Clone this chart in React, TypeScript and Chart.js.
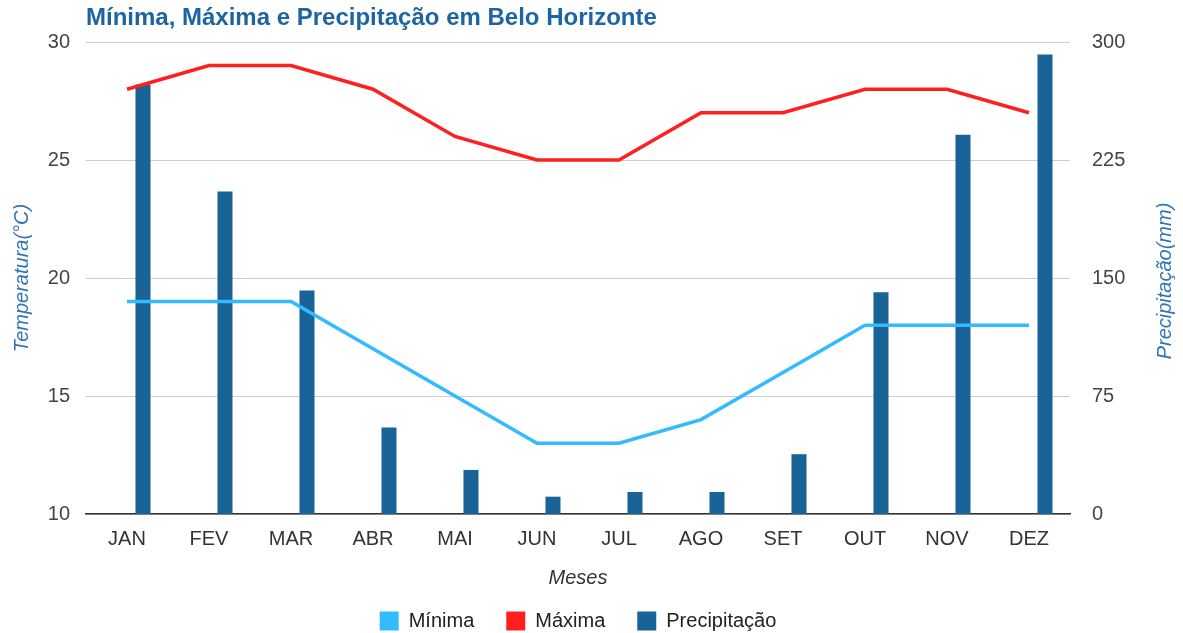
import React, { useEffect, useRef } from "react";
import { Chart, registerables } from "chart.js";

Chart.register(...registerables);

const meses = ["JAN", "FEV", "MAR", "ABR", "MAI", "JUN", "JUL", "AGO", "SET", "OUT", "NOV", "DEZ"];
const minima = [19, 19, 19, 17, 15, 13, 13, 14, 16, 18, 18, 18];
const maxima = [28, 29, 29, 28, 26, 25, 25, 27, 27, 28, 28, 27];
const precipitacao = [273, 205, 142, 55, 28, 11, 14, 14, 38, 141, 241, 292];
const padding = [null, null, null, null, null, null, null, null, null, null, null, null];

const FONT = 'Arial, "Liberation Sans", sans-serif';
const RIGHT_TITLE = "Precipitação(mm)";

const rightTitlePlugin = {
  id: "rightTitle",
  afterDraw(chart: any) {
    const { ctx, chartArea } = chart;
    ctx.save();
    ctx.translate(1165, (chartArea.top + chartArea.bottom) / 2 + 3);
    ctx.rotate(-Math.PI / 2);
    ctx.font = `italic 20px ${FONT}`;
    ctx.fillStyle = "#2e75b6";
    ctx.textAlign = "center";
    ctx.textBaseline = "middle";
    ctx.fillText(RIGHT_TITLE, 0, 0);
    ctx.restore();
  },
};

export default function App() {
  const ref = useRef<HTMLCanvasElement>(null);
  useEffect(() => {
    document.body.style.margin = "0";
    const ctx = ref.current!.getContext("2d")!;
    const chart = new Chart(ctx, {
      type: "bar",
      plugins: [rightTitlePlugin],
      data: {
        labels: meses,
        datasets: [
          {
            type: "line",
            label: "Mínima",
            data: minima,
            borderColor: "#33bbff",
            backgroundColor: "#33bbff",
            borderWidth: 3.5,
            pointRadius: 0,
            tension: 0,
            yAxisID: "y",
            order: 0,
          } as any,
          {
            type: "line",
            label: "Máxima",
            data: maxima,
            borderColor: "#ff1f1f",
            backgroundColor: "#ff1f1f",
            borderWidth: 3.5,
            pointRadius: 0,
            tension: 0,
            yAxisID: "y",
            order: 0,
          },
          {
            type: "bar",
            label: "_pad",
            data: padding,
            backgroundColor: "#1a6396",
            yAxisID: "y1",
            order: 1,
            categoryPercentage: 0.78,
            barPercentage: 0.47,
          },
          {
            type: "bar",
            label: "Precipitação",
            data: precipitacao,
            backgroundColor: "#1a6396",
            yAxisID: "y1",
            order: 1,
            categoryPercentage: 0.78,
            barPercentage: 0.47,
          },
        ],
      },
      options: {
        responsive: false,
        animation: false,
        layout: { padding: 0 },
        font: { family: FONT },
        plugins: {
          tooltip: { enabled: false },
          title: {
            display: true,
            text: "Mínima, Máxima e Precipitação em Belo Horizonte",
            align: "start",
            fullSize: false,
            color: "#1d64a5",
            font: { family: FONT, size: 24, weight: "bold" },
            padding: { top: 4, bottom: 9.2 },
          },
          legend: {
            position: "bottom",
            fullSize: false,
            maxHeight: 54,
            labels: {
              generateLabels: (c: any) =>
                Chart.defaults.plugins.legend.labels
                  .generateLabels(c)
                  .filter((it: any) => it.text !== "_pad")
                  .map((it: any) => ({ ...it, lineWidth: 0, strokeStyle: it.fillStyle })),
              boxWidth: 19,
              boxHeight: 19,
              padding: 32,
              color: "#222",
              font: { family: FONT, size: 20 },
            },
          },
        },
        scales: {
          x: {
            grid: { display: false, drawTicks: false },
            border: { display: true, color: "#333", width: 1.5 },
            ticks: { color: "#333", padding: 13, font: { family: FONT, size: 20 } },
            title: {
              display: true,
              text: "Meses",
              color: "#333",
              padding: { top: 0, bottom: -11 },
              font: { family: FONT, size: 20, style: "italic" },
            },
            afterFit: (s: any) => {
              s.height = 65;
            },
          },
          y: {
            position: "left",
            min: 10,
            max: 30,
            grid: { color: "#cccccc", drawTicks: false },
            border: { display: false },
            ticks: { stepSize: 5, color: "#444", padding: 16, font: { family: FONT, size: 20 } },
            title: {
              display: true,
              text: "Temperatura(°C)",
              color: "#2e75b6",
              padding: { top: 10, bottom: 0 },
              font: { family: FONT, size: 20, style: "italic" },
            },
            afterFit: (s: any) => {
              s.width = 86;
            },
          },
          y1: {
            position: "right",
            min: 0,
            max: 300,
            grid: { display: false, drawTicks: false },
            border: { display: false },
            ticks: { stepSize: 75, color: "#444", padding: 22, font: { family: FONT, size: 20 } },
            afterFit: (s: any) => {
              s.width = 113;
            },
          },
        },
      },
    });
    return () => chart.destroy();
  }, []);
  return (
    <div style={{ width: 1183, height: 633 }}>
      <canvas ref={ref} width={1183} height={633} />
    </div>
  );
}
